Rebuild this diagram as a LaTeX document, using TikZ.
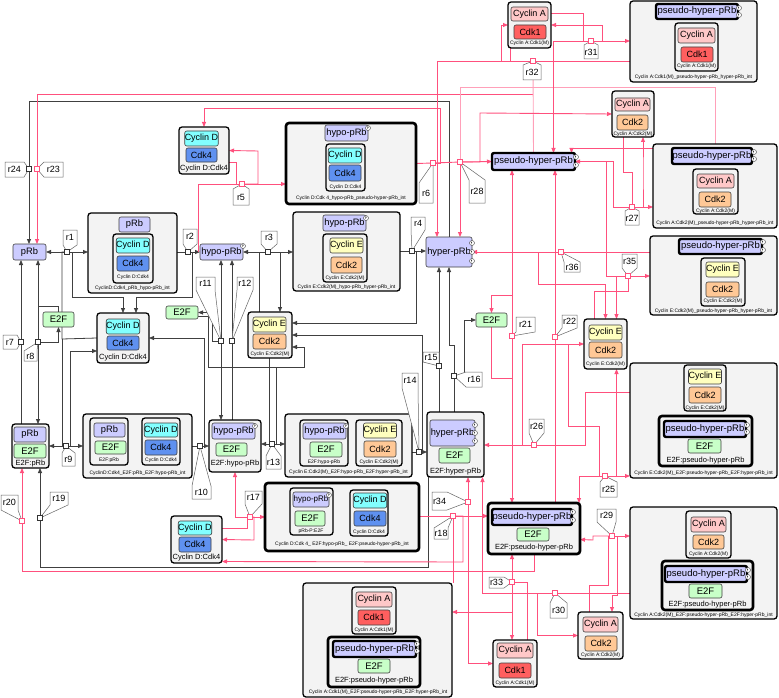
\documentclass[tikz,border=0pt]{standalone}
\usepackage{fontspec}
\setmainfont{Liberation Sans}
\usetikzlibrary{arrows.meta}
\pgfdeclarelayer{bg}
\pgfdeclarelayer{top}
\pgfsetlayers{bg,main,top}
\definecolor{prbc}{RGB}{204,204,255}
\definecolor{cycdc}{RGB}{130,255,255}
\definecolor{cdkfc}{RGB}{95,145,240}
\definecolor{cycec}{RGB}{255,255,190}
\definecolor{cdktc}{RGB}{255,200,150}
\definecolor{cycac}{RGB}{255,200,200}
\definecolor{cdkoc}{RGB}{255,95,95}
\definecolor{e2fc}{RGB}{200,255,200}
\definecolor{cpxc}{RGB}{243,243,243}
\definecolor{pk}{RGB}{255,80,125}
\definecolor{lpk}{RGB}{255,160,185}
\tikzset{
 bbase/.style={inner sep=0pt,outer sep=0pt,rounded corners=2pt},
 cpx/.style={bbase,draw=black,fill=cpxc,line width=1.3pt,rounded corners=3pt},
 tcpx/.style={cpx,line width=2.6pt},
 spc/.style={bbase,draw=black!75,line width=0.6pt,font=\fontsize{9}{10}\selectfont},
 prb/.style={spc,fill=prbc,font=\fontsize{9.3}{10}\selectfont},
 pseudo/.style={prb,draw=black,line width=2.4pt,font=\fontsize{9.5}{10}\selectfont},
 cycd/.style={spc,fill=cycdc},
 cdkf/.style={spc,fill=cdkfc},
 cyce/.style={spc,fill=cycec},
 cdkt/.style={spc,fill=cdktc},
 cyca/.style={spc,fill=cycac},
 cdko/.style={spc,fill=cdkoc},
 e2f/.style={spc,fill=e2fc,font=\fontsize{9.5}{10}\selectfont},
 pcirc/.style={circle,draw=black!75,fill=white,line width=0.4pt,minimum size=5pt,inner sep=0pt,font=\fontsize{3.5}{3.5}\selectfont},
 tinyl/.style={inner sep=0pt,font=\fontsize{5}{5}\selectfont},
 clab/.style={inner sep=0pt,font=\fontsize{7.5}{8}\selectfont},
 rsq/.style={draw=black!80,fill=white,minimum size=5pt,inner sep=0pt,line width=0.7pt},
 prsq/.style={rsq,draw=pk},
 lbl/.style={fill=white,draw=black!60,line width=0.5pt},
 ltxt/.style={inner sep=0pt,font=\fontsize{9}{9}\selectfont},
 kl/.style={draw=black!75,line width=0.8pt},
 pl/.style={draw=pk,line width=0.9pt},
 lpl/.style={draw=lpk,line width=0.9pt},
 arw/.style={-{Triangle[length=5pt,width=4pt]}},
}
\newcommand\spx[7]{\node[#6,minimum width={#4-#2},minimum height={#5-#3}] (#1) at ({(#2+#4)/2},{(#3+#5)/2}) {#7};}
\newcommand\pp[3]{\node[pcirc] (#1) at (#2,#3) {P};}
\newcommand\pe[3]{\node[pcirc] (#1) at (#2,#3) {}; \draw[black!75,line width=0.3pt] ([xshift=-0.8pt,yshift=-1.3pt]#1.center) -- ([xshift=-0.8pt,yshift=1.3pt]#1.center) arc[start angle=90,end angle=-90,radius=0.7pt];}
\newcommand\rx[4]{\node[#2] (#1) at (#3,#4) {};}
\newcommand\rlT[6]{\filldraw[lbl] (#2,#3) -- (#4,#3) -- (#4,#5) -- (#1.center) -- (#2,#5) -- cycle; \node[ltxt] (l#1) at ({(#2+#4)/2},{(#3+#5)/2}) {#6};}
\newcommand\rlB[6]{\filldraw[lbl] (#2,#5) -- (#2,#3) -- (#1.center) -- (#4,#3) -- (#4,#5) -- cycle; \node[ltxt] (l#1) at ({(#2+#4)/2},{(#3+#5)/2}) {#6};}
\newcommand\rlL[6]{\filldraw[lbl] (#2,#3) -- (#4,#3) -- (#1.center) -- (#4,#5) -- (#2,#5) -- cycle; \node[ltxt] (l#1) at ({(#2+#4)/2},{(#3+#5)/2}) {#6};}
\newcommand\rlR[6]{\filldraw[lbl] (#4,#3) -- (#4,#5) -- (#2,#5) -- (#1.center) -- (#2,#3) -- cycle; \node[ltxt] (l#1) at ({(#2+#4)/2},{(#3+#5)/2}) {#6};}
\begin{document}
\begin{tikzpicture}[x=1pt,y=-1pt]
\useasboundingbox (0,0) rectangle (779,698);
\begin{pgfonlayer}{bg}
\fill[white] (0,0) rectangle (779,698);
\end{pgfonlayer}
% ---------- standalone species
\spx{prb1}{13}{244}{46}{260}{prb}{pRb}
\spx{hypo1}{200}{244}{243}{260}{prb}{hypo-pRb}\pp{q1}{243}{246}
\spx{hyper1}{426}{237}{472}{267}{prb}{hyper-pRb}\pe{q2}{472}{243}\pe{q3}{472}{252}\pe{q4}{472}{261}
\spx{ps1}{492}{153}{575}{170}{pseudo}{pseudo-hyper-pRb}\pe{q5}{576}{157}\pe{q6}{576}{165}
\spx{E2Fa}{43}{312}{74}{327}{e2f}{E2F}
\spx{E2Fb}{166}{306}{198}{319}{e2f}{E2F}
\spx{E2Fc}{476}{313}{507}{327}{e2f}{E2F}
% ---------- Cyclin D:Cdk4 (top)
\spx{CDtop}{179}{127}{229}{174}{cpx}{}
\spx{CDt1}{186}{131}{217}{146}{cycd}{Cyclin D}
\spx{CDt2}{186}{148}{217}{162}{cdkf}{Cdk4}
\node[clab] (CDt3) at (204,168.5) {Cyclin D:Cdk4};
% ---------- C1
\spx{C1}{88}{213}{177}{293}{cpx}{}
\spx{C1a}{119}{217}{150}{232}{prb}{pRb}
\spx{C1b}{113}{234}{153}{283}{cpx}{}
\spx{C1c}{117}{238}{149}{253}{cycd}{Cyclin D}
\spx{C1d}{117}{256}{149}{271}{cdkf}{Cdk4}
\node[tinyl] (C1e) at (133,277.5) {Cyclin D:Cdk4};
\node[tinyl] (C1f) at (132.5,288.5) {CyclinD:Cdk4\_pRb\_hypo-pRb\_int};
% ---------- C2
\spx{C2}{286}{123}{416}{204}{tcpx}{}
\spx{C2a}{325}{125}{368}{141}{prb}{hypo-pRb}\pp{q7}{368}{128}
\spx{C2b}{326}{144}{365}{191}{cpx}{}
\spx{C2c}{329}{148}{361}{163}{cycd}{Cyclin D}
\spx{C2d}{329}{165}{361}{181}{cdkf}{Cdk4}
\node[tinyl] (C2e) at (345.5,187) {Cyclin D:Cdk4};
\node[tinyl] (C2f) at (351,198) {Cyclin D:Cdk 4\_hypo-pRb\_pseudo-hyper-pRb\_int};
% ---------- C3
\spx{C3}{293}{212}{400}{291}{cpx}{}
\spx{C3a}{323}{215}{366}{231}{prb}{hypo-pRb}\pp{q8}{366}{218}
\spx{C3b}{323}{234}{367}{282}{cpx}{}
\spx{C3c}{331}{238}{362}{253}{cyce}{Cyclin E}
\spx{C3d}{331}{257}{362}{273}{cdkt}{Cdk2}
\node[tinyl] (C3e) at (345,278) {Cyclin E:Cdk2(M)};
\node[tinyl] (C3f) at (346.5,287) {Cyclin E:Cdk2(M)\_hypo-pRb\_hyper-pRb\_int};
% ---------- Cyclin D:Cdk4 mid
\spx{CDmid}{97}{313}{149}{363}{cpx}{}
\spx{CDm1}{107}{319}{139}{334}{cycd}{Cyclin D}
\spx{CDm2}{107}{336}{139}{350}{cdkf}{Cdk4}
\node[clab] (CDm3) at (123,358) {Cyclin D:Cdk4};
% ---------- Cyclin E:Cdk2 mid
\spx{CEmid}{248}{312}{292}{358}{cpx}{}
\spx{CEm1}{253}{317}{286}{332}{cyce}{Cyclin E}
\spx{CEm2}{253}{334}{286}{349}{cdkt}{Cdk2}
\node[tinyl] (CEm3) at (270,354) {Cyclin E:Cdk2(M)};
% ---------- E2F:pRb
\spx{EP}{12}{424}{49}{468}{cpx}{}
\spx{EPa}{14}{427}{46}{442}{prb}{pRb}
\spx{EPb}{14}{444}{46}{458}{e2f}{E2F}
\node[clab] (EPc) at (30.5,463.5) {E2F:pRb};
% ---------- C4
\spx{C4}{83}{414}{192}{478}{cpx}{}
\spx{C4a}{90}{418}{128}{465}{cpx}{}
\spx{C4b}{94}{423}{125}{437}{prb}{pRb}
\spx{C4c}{95}{441}{126}{454}{e2f}{E2F}
\node[tinyl] (C4g) at (109,460) {E2F:pRb};
\spx{C4d}{142}{418}{180}{465}{cpx}{}
\spx{C4e}{145}{423}{177}{437}{cycd}{Cyclin D}
\spx{C4f}{145}{440}{177}{455}{cdkf}{Cdk4}
\node[tinyl] (C4h) at (161,460.5) {Cyclin D:Cdk4};
\node[tinyl] (C4i) at (137.5,473) {CyclinD:Cdk4\_E2F:pRb\_E2F:hypo-pRb\_int};
% ---------- E2F:hypo-pRb
\spx{EH}{209}{420}{261}{472}{cpx}{}
\spx{EHa}{212}{423}{255}{439}{prb}{hypo-pRb}\pp{q9}{255}{426}
\spx{EHb}{216}{443}{247}{456}{e2f}{E2F}
\node[clab] (EHc) at (235,464) {E2F:hypo-pRb};
% ---------- C5
\spx{C5}{285}{414}{412}{477}{cpx}{}
\spx{C5a}{300}{420}{348}{466}{cpx}{}
\spx{C5b}{303}{423}{346}{439}{prb}{hypo-pRb}\pp{q10}{346}{426}
\spx{C5c}{310}{442}{342}{457}{e2f}{E2F}
\node[tinyl] (C5g) at (324,462) {E2F:hypo-pRb};
\spx{C5d}{356}{420}{402}{466}{cpx}{}
\spx{C5e}{364}{423}{396}{438}{cyce}{Cyclin E}
\spx{C5f}{364}{441}{396}{457}{cdkt}{Cdk2}
\node[tinyl] (C5h) at (379,462) {Cyclin E:Cdk2(M)};
\node[tinyl] (C5i) at (348.5,472) {Cyclin E:Cdk2(M)\_E2F:hypo-pRb\_E2F:hyper-pRb\_int};
% ---------- E2F:hyper-pRb
\spx{EHy}{427}{412}{484}{477}{cpx}{}
\spx{EHya}{430}{420}{475}{446}{prb}{hyper-pRb}\pe{q11}{475}{425}\pe{q12}{475}{433}\pe{q13}{475}{441}
\spx{EHyb}{439}{448}{470}{463}{e2f}{E2F}
\node[clab] (EHyc) at (455.5,471.5) {E2F:hyper-pRb};
% ---------- Cyclin D:Cdk4 bottom
\spx{CDbot}{171}{516}{222}{563}{cpx}{}
\spx{CDb1}{179}{521}{211}{535}{cycd}{Cyclin D}
\spx{CDb2}{179}{537}{211}{552}{cdkf}{Cdk4}
\node[clab] (CDb3) at (196.5,558) {Cyclin D:Cdk4};
% ---------- C12
\spx{C12}{265}{483}{419}{551}{tcpx}{}
\spx{C12a}{290}{488}{333}{535}{cpx}{}
\spx{C12b}{293}{492}{329}{507}{prb,font=\fontsize{8}{9}\selectfont}{hypo-pRb}\pp{q14}{329}{495}
\spx{C12c}{295}{511}{325}{526}{e2f}{E2F}
\node[tinyl] (C12g) at (311,531) {pRb-P:E2F};
\spx{C12d}{350}{490}{388}{536}{cpx}{}
\spx{C12e}{354}{493}{386}{508}{cycd}{Cyclin D}
\spx{C12f}{354}{511}{386}{526}{cdkf}{Cdk4}
\node[tinyl] (C12h) at (369,532) {Cyclin D:Cdk4};
\node[tinyl] (C12i) at (342,544) {Cyclin D:Cdk 4\_ E2F:hypo-pRb\_ E2F:pseudo-hyper-pRb\_int};
% ---------- Cyclin E:Cdk2 right
\spx{CEright}{584}{319}{627}{369}{cpx}{}
\spx{CEr1}{589}{325}{622}{340}{cyce}{Cyclin E}
\spx{CEr2}{589}{342}{622}{358}{cdkt}{Cdk2}
\node[tinyl] (CEr3) at (605.5,364.5) {Cyclin E:Cdk2(M)};
% ---------- C8
\spx{C8}{650}{236}{777}{315}{cpx}{}
\spx{C8a}{679}{239}{762}{254}{pseudo}{pseudo-hyper-pRb}\pe{q15}{763}{242}\pe{q16}{763}{250}
\spx{C8b}{701}{258}{745}{306}{cpx}{}
\spx{C8c}{706}{262}{739}{277}{cyce}{Cyclin E}
\spx{C8d}{706}{282}{739}{297}{cdkt}{Cdk2}
\node[tinyl] (C8e) at (723,301.5) {Cyclin E:Cdk2(M)};
\node[tinyl] (C8f) at (713.5,311) {Cyclin E:Cdk2(M)\_pseudo-hyper-pRb\_hyper-pRb\_int};
% ---------- C9
\spx{C9}{630}{363}{777}{478}{cpx}{}
\spx{C9a}{684}{365}{726}{411}{cpx}{}
\spx{C9b}{689}{369}{721}{384}{cyce}{Cyclin E}
\spx{C9c}{689}{387}{721}{403}{cdkt}{Cdk2}
\node[tinyl] (C9g) at (705,408) {Cyclin E:Cdk2(M)};
\spx{C9d}{659}{416}{752}{466}{tcpx}{}
\spx{C9e}{664}{421}{746}{437}{pseudo}{pseudo-hyper-pRb}\pe{q17}{747}{425}\pe{q18}{747}{432}
\spx{C9f}{688}{439}{721}{453}{e2f}{E2F}
\node[clab] (C9h) at (705.5,460.5) {E2F:pseudo-hyper-pRb};
\node[tinyl] (C9i) at (703.5,473) {Cyclin E:Cdk2(M)\_E2F:pseudo-hyper-pRb\_E2F:hyper-pRb\_int};
% ---------- C10
\spx{C10}{630}{507}{777}{619}{cpx}{}
\spx{C10a}{686}{511}{731}{558}{cpx}{}
\spx{C10b}{691}{517}{726}{532}{cyca}{Cyclin A}
\spx{C10c}{693}{535}{724}{549}{cdkt}{Cdk2}
\node[tinyl] (C10g) at (708.5,554) {Cyclin A:Cdk2(M)};
\spx{C10d}{662}{561}{753}{610}{tcpx}{}
\spx{C10e}{665}{566}{747}{582}{pseudo}{pseudo-hyper-pRb}\pe{q19}{748}{570}\pe{q20}{748}{577}
\spx{C10f}{689}{584}{722}{598}{e2f}{E2F}
\node[clab] (C10h) at (707.5,605) {E2F:pseudo-hyper-pRb};
\node[tinyl] (C10i) at (703.5,615.5) {Cyclin A:Cdk2(M)\_E2F:pseudo-hyper-pRb\_E2F:hyper-pRb\_int};
% ---------- C11
\spx{C11}{303}{583}{452}{697}{cpx}{}
\spx{C11a}{352}{587}{396}{634}{cpx}{}
\spx{C11b}{356}{592}{392}{607}{cyca}{Cyclin A}
\spx{C11c}{358}{610}{390}{625}{cdko}{Cdk1}
\node[tinyl] (C11g) at (374,630) {Cyclin A:Cdk1(M)};
\spx{C11d}{328}{637}{420}{687}{tcpx}{}
\spx{C11e}{333}{641}{416}{657}{pseudo}{pseudo-hyper-pRb}\pe{q21}{417}{644}\pe{q22}{417}{651}
\spx{C11f}{358}{659}{390}{673}{e2f}{E2F}
\node[clab] (C11h) at (374,681) {E2F:pseudo-hyper-pRb};
\node[tinyl] (C11i) at (378,692.5) {Cyclin A:Cdk1(M)\_E2F:pseudo-hyper-pRb\_E2F:hyper-pRb\_int};
% ---------- E2F:pseudo-hyper-pRb
\spx{EPs}{488}{503}{580}{554}{tcpx}{}
\spx{EPsa}{492}{509}{572}{525}{pseudo}{pseudo-hyper-pRb}\pe{q23}{573}{512}\pe{q24}{573}{520}
\spx{EPsb}{517}{528}{549}{541}{e2f}{E2F}
\node[clab] (EPsc) at (534,547.5) {E2F:pseudo-hyper-pRb};
% ---------- Cyclin A:Cdk2 bottom
\spx{CA2bot}{578}{612}{623}{659}{cpx}{}
\spx{CA2b1}{583}{617}{618}{632}{cyca}{Cyclin A}
\spx{CA2b2}{585}{636}{617}{651}{cdkt}{Cdk2}
\node[tinyl] (CA2b3) at (600.5,655) {Cyclin A:Cdk2(M)};
% ---------- Cyclin A:Cdk1 bottom
\spx{CA1bot}{493}{640}{537}{687}{cpx}{}
\spx{CA1b1}{497}{643}{533}{658}{cyca}{Cyclin A}
\spx{CA1b2}{499}{663}{531}{678}{cdko}{Cdk1}
\node[tinyl] (CA1b3) at (515,683) {Cyclin A:Cdk1(M)};
% ---------- Cyclin A:Cdk1 top
\spx{CA1top}{508}{2}{551}{48}{cpx}{}
\spx{CA1t1}{511}{7}{548}{21}{cyca}{Cyclin A}
\spx{CA1t2}{514}{25}{546}{39}{cdko}{Cdk1}
\node[tinyl] (CA1t3) at (529.5,43.5) {Cyclin A:Cdk1(M)};
% ---------- Cyclin A:Cdk2 top
\spx{CA2top}{612}{91}{654}{137}{cpx}{}
\spx{CA2t1}{615}{98}{650}{111}{cyca}{Cyclin A}
\spx{CA2t2}{617}{115}{648}{130}{cdkt}{Cdk2}
\node[tinyl] (CA2t3) at (633,134) {Cyclin A:Cdk2(M)};
% ---------- C6
\spx{C6}{653}{144}{777}{228}{cpx}{}
\spx{C6a}{672}{148}{752}{164}{pseudo}{pseudo-hyper-pRb}\pe{q25}{754}{152}\pe{q26}{754}{159}
\spx{C6b}{693}{169}{738}{214}{cpx}{}
\spx{C6c}{697}{174}{734}{188}{cyca}{Cyclin A}
\spx{C6d}{699}{192}{731}{207}{cdkt}{Cdk2}
\node[tinyl] (C6e) at (715.5,211.5) {Cyclin A:Cdk2(M)};
\node[tinyl] (C6f) at (715,223) {Cyclin A:Cdk2(M)\_pseudo-hyper-pRb\_hyper-pRb\_int};
% ---------- C7
\spx{C7}{630}{1}{757}{82}{cpx}{}
\spx{C7a}{656}{4}{738}{19}{pseudo}{pseudo-hyper-pRb}\pe{q27}{739}{8}\pe{q28}{739}{15}
\spx{C7b}{675}{23}{718}{71}{cpx}{}
\spx{C7c}{678}{28}{715}{43}{cyca}{Cyclin A}
\spx{C7d}{681}{47}{713}{62}{cdko}{Cdk1}
\node[tinyl] (C7e) at (696.5,66.5) {Cyclin A:Cdk1(M)};
\node[tinyl] (C7f) at (693.5,77) {Cyclin A:Cdk1(M)\_pseudo-hyper-pRb\_hyper-pRb\_int};
% ---------- reaction squares
\begin{pgfonlayer}{top}
\rx{r1}{rsq}{67}{252}\rx{r2}{rsq}{188}{252}\rx{r3}{rsq}{268}{252}\rx{r4}{rsq}{412}{251}
\rx{r5}{prsq}{242}{184}\rx{r6}{prsq}{433}{163}\rx{r7}{rsq}{21}{342}\rx{r8}{rsq}{38}{342}
\rx{r9}{rsq}{66}{446}\rx{r10}{rsq}{200}{446}\rx{r11}{rsq}{221}{341}\rx{r12}{rsq}{232}{341}
\rx{r13}{rsq}{272}{444}\rx{r14}{rsq}{419}{452}\rx{r15}{rsq}{439}{366}\rx{r16}{rsq}{454}{376}
\rx{r17}{prsq}{250}{517}\rx{r18}{prsq}{453}{516}\rx{r19}{rsq}{40}{518}\rx{r20}{prsq}{22}{521}
\rx{r21}{prsq}{512}{336}\rx{r22}{prsq}{555}{337}\rx{r23}{prsq}{37}{169}\rx{r24}{rsq}{29}{169}
\rx{r25}{prsq}{605}{476}\rx{r26}{prsq}{534}{445}\rx{r27}{prsq}{632}{207}\rx{r28}{prsq}{460}{162}
\rx{r29}{prsq}{612}{536}\rx{r30}{prsq}{555}{593}\rx{r31}{prsq}{591}{41}\rx{r32}{prsq}{533}{61}
\rx{r33}{prsq}{512}{582}\rx{r34}{prsq}{468}{502}\rx{r35}{prsq}{628}{276}\rx{r36}{prsq}{561}{252}
\end{pgfonlayer}
% ---------- reaction labels
\rlT{r1}{63}{230}{77}{245}{r1}
\rlT{r2}{183}{229}{197}{244}{r2}
\rlT{r3}{261}{231}{277}{244}{r3}
\rlT{r4}{411}{217}{425}{230}{r4}
\rlB{r5}{233}{189}{249}{205}{r5}
\rlB{r6}{419}{183}{433}{203}{r6}
\rlL{r7}{3}{335}{17}{349}{r7}
\rlB{r8}{24}{351}{37}{361}{r8}
\rlB{r9}{62}{453}{75}{466}{r9}
\rlB{r10}{192}{486}{211}{499}{r10}
\rlT{r11}{196}{277}{215}{290}{r11}
\rlT{r12}{237}{277}{253}{290}{r12}
\rlB{r13}{266}{456}{281}{469}{r13}
\rlT{r14}{402}{373}{418}{388}{r14}
\rlT{r15}{423}{352}{439}{362}{r15}
\rlR{r16}{466}{372}{482}{387}{r16}
\rlT{r17}{245}{491}{262}{504}{r17}
\rlB{r18}{434}{528}{448}{539}{r18}
\rlT{r19}{50}{492}{68}{505}{r19}
\rlT{r20}{1}{495}{18}{510}{r20}
\rlT{r21}{516}{317}{535}{332}{r21}
\rlT{r22}{562}{315}{577}{328}{r22}
\rlR{r23}{44}{162}{63}{177}{r23}
\rlL{r24}{5}{162}{24}{177}{r24}
\rlB{r25}{600}{482}{617}{497}{r25}
\rlT{r26}{529}{419}{544}{433}{r26}
\rlB{r27}{625}{211}{639}{225}{r27}
\rlB{r28}{469}{180}{485}{203}{r28}
\rlT{r29}{597}{509}{616}{522}{r29}
\rlB{r30}{550}{603}{567}{618}{r30}
\rlB{r31}{584}{45}{598}{59}{r31}
\rlB{r32}{523}{65}{541}{80}{r32}
\rlL{r33}{489}{577}{504}{588}{r33}
\rlL{r34}{432}{492}{447}{510}{r34}
\rlT{r35}{622}{254}{637}{268}{r35}
\rlB{r36}{564}{262}{580}{272}{r36}
% ---------- connectors
\begin{pgfonlayer}{bg}
% black
\draw[kl] (hyper1.north) -- (449,101) -| (r24);
\draw[kl,arw] (r24) -- (prb1.north -| r24);
\draw[kl,arw] (r1) -- (prb1.east);
\draw[kl,arw] (r1) -- (C1.west |- r1);
\draw[kl] (r1) -| (62,339) -- (CDmid.west);
\draw[kl,arw] (r1) -| (72,297) -| (CDmid.north);
\draw[kl] (C1.east |- r2) -- (r2);
\draw[kl,arw] (r2) -- (hypo1.west);
\draw[kl,arw] (r2) -| (192,297) -| ([xshift=13pt]CDmid.north);
\draw[kl,arw] (r3) -- (hypo1.east);
\draw[kl,arw] (r3) -- (C3.west |- r3);
\draw[kl] ([xshift=-11pt]CEmid.north) |- (r3);
\draw[kl,arw] (r3) -| ([xshift=10pt]CEmid.north);
\draw[kl] (C3.east |- r4) -- (r4);
\draw[kl,arw] (r4) -- (hyper1.west |- r4);
\draw[kl,arw] (r4) -| (416,323) -- ([yshift=12pt]CEmid.east);
\draw[kl] (EP.north -| r7) -- (r7);
\draw[kl,arw] (r7) -- (prb1.south -| r7);
\draw[kl,arw] (r8) -- (EP.north -| r8);
\draw[kl,arw] (r8) -- (prb1.south -| r8);
\draw[kl] (E2Fa.north) -- (58.5,306) -- (38,306);
\draw[kl,arw] (r8) -| (E2Fa.south);
\draw[kl,arw] (r9) -- (EP.east |- r9);
\draw[kl,arw] (r9) -- (C4.west |- r9);
\draw[kl] (r9) -| (62,339);
\draw[kl,arw] (r9) -| (70,351) -- ([yshift=-13pt]CDmid.west);
\draw[kl] (C4.east |- r10) -- (r10);
\draw[kl,arw] (r10) -- (EH.west |- r10);
\draw[kl,arw] (r10) -| (204,338) -- (CDmid.east);
\draw[kl,arw] (r11) -- (hypo1.south -| r11);
\draw[kl,arw] (r11) -- (EH.north -| r11);
\draw[kl,arw] (r11) -| (212,312.5) -- (E2Fb.east);
\draw[kl,arw] (r12) -- (hypo1.south -| r12);
\draw[kl] (r12) -- (EH.north -| r12);
\draw[kl] ([yshift=-4pt]E2Fb.east) -| (208,367) -- (276,367);
\draw[kl,arw] (r13) -- (EH.east |- r13);
\draw[kl,arw] (r13) -- (C5.west |- r13);
\draw[kl] ([xshift=-1pt]CEmid.south) |- (r13);
\draw[kl,arw] (r13) -| (276,367) -| (304,347) -- ([yshift=-12pt]CEmid.east);
\draw[kl] (C5.east |- r14) -- (r14);
\draw[kl,arw] (r14) -- (EHy.west |- r14);
\draw[kl,arw] (r14) -| (422,335) -- (CEmid.east);
\draw[kl] (EHy.north -| r15) -- (r15);
\draw[kl,arw] (r15) -- (hyper1.south -| r15);
\draw[kl] (EHy.north -| r16) -- (r16);
\draw[kl,arw] (r16) -- (454,345) -| (hyper1.south);
\draw[kl,arw] (r16) -| (464,320) -- (E2Fc.west);
\draw[kl,arw] (r19) -- (EP.south -| r19);
\draw[kl] ([xshift=1pt]EHy.south west) -- (428,567) -| (r19);
% pink
\draw[pl] (533,94) -| (r23);
\draw[pl,arw] (r23) -- (prb1.north -| r23);
\draw[lpl] (r32) -- (ps1.north);
\draw[pl,arw] (r5) -| (258,151) -- (CDtop.east);
\draw[pl] ([yshift=-12pt]CDtop.east) -| (236,184);
\draw[pl] (r5) -| ([xshift=-2pt]hypo1.west);
\draw[pl,arw] (r5) -- (C2.west |- r5);
\draw[pl] (C2.east) -- (r6);
\draw[pl,arw] (r6) -| (440,108) -| (CDtop.north);
\draw[pl] (r6) -- (r28);
\draw[pl,arw] (r28) -- (ps1.west);
\draw[pl,arw] (r28) -- (hyper1.north -| r28);
\draw[lpl] (r28) -- (460,87) -| (C6.north);
\draw[pl,arw] (r28) -| (480,113) -- (CA2top.west);
\draw[pl] (C7.west |- r32) -- (r32);
\draw[pl,arw] (r32) -| ([xshift=-12pt]hyper1.north);
\draw[pl,arw] (501,61) |- (CA1top.west);
\draw[pl] ([xshift=-19pt]CA1top.south) -- (510.5,61);
\draw[pl,arw] (r31) -- (C7.west |- r31);
\draw[pl,arw] (r31) -| ([xshift=20pt]ps1.north);
\draw[pl] ([yshift=12pt]CA1top.east) -| (583,41);
\draw[pl,arw] (r31) -| (602,25) -- (CA1top.east);
\draw[pl,arw] (r27) -- (C6.west |- r27);
\draw[pl,arw] (r27) -| (613,161.5) -- (ps1.east);
\draw[pl] ([xshift=-10pt]CA2top.south) -- (623,172) -| (r27);
\draw[pl,arw] (r27) -| (643,172) -- ([xshift=10pt]CA2top.south);
\draw[pl,arw] ([yshift=38pt]C6.west) -| ([xshift=38pt]ps1.north);
\draw[pl] (C8.west |- r36) -- (r36);
\draw[pl,arw] (r36) -- (hyper1.east |- r36);
\draw[pl,arw] (538,252) -- (538,284) -| (CEright.north);
\draw[pl] (606,161.5) |- (r35);
\draw[pl,arw] (r35) -- (C8.west |- r35);
\draw[pl,arw] (r35) -| ([xshift=11pt]CEright.north);
\draw[pl] ([xshift=-11pt]CEright.north) |- (628,291) -- (r35);
\draw[pl,arw] (r21) -- (ps1.south -| r21);
\draw[pl,arw] (r21) -- (EPs.north -| r21);
\draw[pl,arw] (512,295) -| (E2Fc.north);
\draw[pl] (E2Fc.south) |- (512,378);
\draw[pl,arw] (r22) -- (ps1.south -| r22);
\draw[pl] (r22) -- (EPs.north -| r22);
\draw[pl,arw] (r26) -- (EHy.east |- r26);
\draw[pl] ([yshift=28pt]C9.west) -| (585,445) -- (r26);
\draw[pl,arw] (r26) -| (522,344) -- (CEright.west);
\draw[pl,arw] (r25) -- (C9.west |- r25);
\draw[pl,arw] (r25) -| ([xshift=11pt]CEright.south);
\draw[pl,arw] (r25) -| ([xshift=45pt]EPs.north);
\draw[pl] (568,344) |- (599,426) -- (599,476);
\draw[pl,arw] (r29) -- (C10.west |- r29);
\draw[pl,arw] (r29) -| (593,540) -- ([yshift=-11pt]EPs.east);
\draw[pl] (r29) -| (608,585) -| ([xshift=-11.5pt]CA2bot.north);
\draw[pl,arw] (r29) -| (617,595) -| ([xshift=11.5pt]CA2bot.north);
\draw[pl] (C10.west |- r30) -- (r30);
\draw[pl,arw] (r30) -| ([xshift=27pt]EHy.south);
\draw[pl,arw] (537,593) |- (CA2bot.west);
\draw[pl,arw] (r33) -- (EPs.south -| r33);
\draw[pl,arw] (r33) -- (CA1bot.north -| r33);
\draw[pl,arw] (512,612) -- ([yshift=28pt]C11.east);
\draw[pl] (r33) -| ([xshift=12pt]CA1bot.north);
\draw[pl,arw] (r34) -- (EHy.south -| r34);
\draw[pl,arw] (r34) |- (CA1bot.west);
\draw[pl] (C12.east |- r18) -- (r18);
\draw[pl,arw] (r18) -- (EPs.west |- r18);
\draw[pl,arw] (r18) -| (463,562) -- ([yshift=-22pt]CDbot.east);
\draw[pl] (r18) -- (r18 |- C11.north);
\draw[pl,arw] (r17) -- (C12.west |- r17);
\draw[pl,arw] (r17) -| (EH.south);
\draw[pl] ([yshift=11pt]CDbot.east) -| (247,517);
\draw[pl,arw] (r17) -| (254,540) -- (CDbot.east);
\draw[pl,arw] (r20) -- (EP.south -| r20);
\draw[pl] (EPs.south) -- (534,571) -| (r20);
\end{pgfonlayer}
\end{tikzpicture}
\end{document}
